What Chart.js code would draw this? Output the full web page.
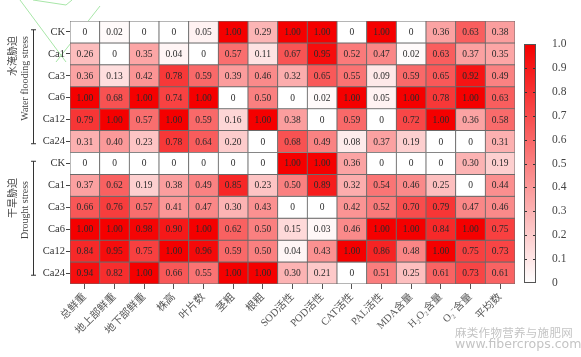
<!DOCTYPE html>
<html>
<head>
<meta charset="utf-8">
<script src="https://cdn.jsdelivr.net/npm/chart.js@4.4.1/dist/chart.umd.min.js"></script>
<style>
html,body{margin:0;padding:0;background:#fff;}
#wrap{position:relative;width:581px;height:357px;overflow:hidden;}
#main{position:absolute;left:0;top:0;}
#cbar{position:absolute;left:515px;top:0;}
#wm{position:absolute;left:455px;top:326px;color:#c4c4c4;font-family:"Noto Sans CJK SC","DejaVu Sans",sans-serif;line-height:12px;}
#deco{position:absolute;left:0;top:0;}
</style>
</head>
<body>
<div id="wrap">
<svg id="deco" width="581" height="357"><polyline points="20,0 66,62" stroke="#a8e6a8" stroke-width="1" fill="none"/><polyline points="33,0 66,5 72,0" stroke="#a8e6a8" stroke-width="1" fill="none"/><polyline points="100,6 56,62" stroke="#a8e6a8" stroke-width="1" fill="none"/></svg>
<canvas id="main" width="581" height="357"></canvas>
<canvas id="cbar" width="66" height="357"></canvas>
<div id="wm"><div style="font-size:11.5px;letter-spacing:0.3px">麻类作物营养与施肥网</div><div style="font-size:12.5px;font-family:'DejaVu Sans',sans-serif">www.fibercrops.com</div></div>
</div>
<script>
// ---- data ----
const columns = ['总鲜重','地上部鲜重','地下部鲜重','株高','叶片数','茎粗','根粗','SOD活性','POD活性','CAT活性','PAL活性','MDA含量','H₂O₂含量','O₂⁻含量','平均数'];
const rowLabels = ['CK','Ca1','Ca3','Ca6','Ca12','Ca24','CK','Ca1','Ca3','Ca6','Ca12','Ca24'];
const groupLabelsCN = ['水淹胁迫','干旱胁迫'];
const groupLabelsEN = ['Water flooding stress','Drought stress'];
const colorbarTicks = [0,0.1,0.2,0.3,0.4,0.5,0.6,0.7,0.8,0.9,1.0];

const floodCK   = [0,0.02,0,0,0.05,1.00,0.29,1.00,1.00,0,1.00,0,0.36,0.63,0.38];
const floodCa1  = [0.26,0,0.35,0.04,0,0.57,0.11,0.67,0.95,0.52,0.47,0.02,0.63,0.37,0.35];
const floodCa3  = [0.36,0.13,0.42,0.78,0.59,0.39,0.46,0.32,0.65,0.55,0.09,0.59,0.65,0.92,0.49];
const floodCa6  = [1.00,0.68,1.00,0.74,1.00,0,0.50,0,0.02,1.00,0.05,1.00,0.78,1.00,0.63];
const floodCa12 = [0.79,1.00,0.57,1.00,0.59,0.16,1.00,0.38,0,0.59,0,0.72,1.00,0.36,0.58];
const floodCa24 = [0.31,0.40,0.23,0.78,0.64,0.20,0,0.68,0.49,0.08,0.37,0.19,0,0,0.31];
const droughtCK   = [0,0,0,0,0,0,0,1.00,1.00,0.36,0,0,0,0.30,0.19];
const droughtCa1  = [0.37,0.62,0.19,0.38,0.49,0.85,0.23,0.50,0.89,0.32,0.54,0.46,0.25,0,0.44];
const droughtCa3  = [0.66,0.76,0.57,0.41,0.47,0.30,0.43,0,0,0.42,0.52,0.70,0.79,0.47,0.46];
const droughtCa6  = [1.00,1.00,0.98,0.90,1.00,0.62,0.50,0.15,0.03,0.46,1.00,1.00,0.84,1.00,0.75];
const droughtCa12 = [0.84,0.95,0.75,1.00,0.96,0.59,0.50,0.04,0.43,1.00,0.86,0.48,1.00,0.75,0.73];
const droughtCa24 = [0.94,0.82,1.00,0.66,0.55,1.00,1.00,0.30,0.21,0,0.51,0.25,0.61,0.73,0.61];

const matrix = [floodCK,floodCa1,floodCa3,floodCa6,floodCa12,floodCa24,
                droughtCK,droughtCa1,droughtCa3,droughtCa6,droughtCa12,droughtCa24];

// ---- styling ----
const SERIF = '"Liberation Serif","Times New Roman","Noto Sans CJK SC",serif';
const XFONT = '"Liberation Serif","Noto Sans CJK SC",serif';
function colorFor(v){
  const r = Math.round(255 - 10*v);
  const g = Math.round(255*(1-v));
  return `rgb(${r},${g},${g})`;
}
function fmt(v){ return v === 0 ? '0' : v.toFixed(2); }

const datasets = matrix.map((row, r) => ({
  label: rowLabels[r],
  data: row.map(() => [r, r+1]),
  values: row,
  backgroundColor: row.map(colorFor),
  borderColor: '#6a6a6a',
  borderWidth: 0.8,
  borderSkipped: false,
  barPercentage: 1,
  categoryPercentage: 1
}));

const cellText = {
  id: 'cellText',
  afterDatasetsDraw(chart){
    const ctx = chart.ctx;
    ctx.save();
    ctx.font = '9.5px ' + SERIF;
    ctx.fillStyle = '#2a2a2a';
    ctx.textAlign = 'center';
    ctx.textBaseline = 'middle';
    chart.data.datasets.forEach((ds, i) => {
      chart.getDatasetMeta(i).data.forEach((el, j) => {
        ctx.fillText(fmt(ds.values[j]), el.x, (el.y + el.base)/2 + 0.5);
      });
    });
    ctx.restore();
  }
};

const groups = {
  id: 'groups',
  afterDraw(chart){
    const ctx = chart.ctx, ys = chart.scales.y;
    ctx.save();
    ctx.strokeStyle = '#333';
    ctx.lineWidth = 1;
    const spans = [[0,5],[6,11]];
    spans.forEach(([a,b]) => {
      const y1 = ys.getPixelForValue(a+0.4), y2 = ys.getPixelForValue(b+0.6);
      ctx.beginPath();
      ctx.moveTo(33.5,y1); ctx.lineTo(33.5,y2);
      ctx.moveTo(31,y1); ctx.lineTo(36,y1);
      ctx.moveTo(31,y2); ctx.lineTo(36,y2);
      ctx.stroke();
    });
    ctx.fillStyle = '#444';
    ctx.textBaseline = 'middle';
    ctx.textAlign = 'right';
    const tops = [[36,36],[178,181]];
    groupLabelsCN.forEach((t,i) => {
      ctx.save(); ctx.translate(12, tops[i][0]); ctx.rotate(-Math.PI/2);
      ctx.font = '10px "Noto Sans CJK SC",sans-serif';
      ctx.fillText(t, 0, 0); ctx.restore();
    });
    groupLabelsEN.forEach((t,i) => {
      ctx.save(); ctx.translate(25.5, tops[i][1]); ctx.rotate(-Math.PI/2);
      ctx.font = '10px ' + SERIF;
      ctx.fillText(t, 0, 0); ctx.restore();
    });
    ctx.restore();
  }
};

new Chart(document.getElementById('main'), {
  type: 'bar',
  data: { labels: columns, datasets },
  options: {
    responsive: false,
    animation: false,
    layout: { padding: { left: 38, top: 21, right: 66, bottom: 0 } },
    plugins: { legend: { display: false }, tooltip: { enabled: false } },
    scales: {
      x: {
        stacked: true,
        offset: true,
        grid: { offset: false, drawOnChartArea: false, drawTicks: true, tickLength: 5, color: '#555' },
        border: { display: false },
        ticks: { minRotation: 45, maxRotation: 45, autoSkip: false, padding: 2, color: '#555',
                 font: { family: XFONT, size: 10.5 } },
        afterFit(s){ s.height = 73; }
      },
      y: {
        stacked: false,
        min: 0, max: 12, reverse: true,
        afterBuildTicks(s){ s.ticks = rowLabels.map((_, i) => ({ value: i + 0.5 })); },
        grid: { drawOnChartArea: false, drawTicks: true, tickLength: 4, color: '#444' },
        border: { display: false },
        ticks: { autoSkip: false, padding: 1, color: '#333', font: { family: SERIF, size: 10.5 },
                 callback: (v) => rowLabels[Math.floor(v)] },
        afterFit(s){ s.width = 32; }
      }
    }
  },
  plugins: [cellText, groups]
});

// ---- colorbar ----
const cbTicks = {
  id: 'cbTicks',
  afterDatasetsDraw(chart){
    const ctx = chart.ctx, ys = chart.scales.y, a = chart.chartArea;
    ctx.save();
    ctx.strokeStyle = '#333'; ctx.lineWidth = 1;
    colorbarTicks.forEach(v => {
      if (v === 0 || v === 1) return;
      const y = Math.round(ys.getPixelForValue(v)) + 0.5;
      ctx.beginPath();
      ctx.moveTo(a.left, y); ctx.lineTo(a.left+3, y);
      ctx.moveTo(a.right-3, y); ctx.lineTo(a.right, y);
      ctx.stroke();
    });
    ctx.strokeStyle = '#555';
    ctx.strokeRect(a.left+0.5, a.top+0.5, a.right-a.left-1, a.bottom-a.top-1);
    ctx.restore();
  }
};
new Chart(document.getElementById('cbar'), {
  type: 'bar',
  data: { labels: [''], datasets: [{
    data: [[0,1]],
    barPercentage: 1, categoryPercentage: 1, borderWidth: 0,
    backgroundColor(c){
      const a = c.chart.chartArea;
      if (!a) return '#f00';
      const g = c.chart.ctx.createLinearGradient(0, a.bottom, 0, a.top);
      g.addColorStop(0, colorFor(0));
      g.addColorStop(0.5, colorFor(0.5));
      g.addColorStop(1, colorFor(1));
      return g;
    }
  }]},
  options: {
    responsive: false, animation: false,
    layout: { padding: { left: 9, top: 44, bottom: 74, right: 0 } },
    plugins: { legend: { display: false }, tooltip: { enabled: false } },
    scales: {
      x: { display: false },
      y: {
        position: 'right', min: 0, max: 1,
        afterBuildTicks(s){ s.ticks = colorbarTicks.map(v => ({ value: v })); },
        grid: { display: false },
        border: { display: false },
        ticks: { padding: 8, color: '#444', font: { family: SERIF, size: 11.5 },
                 callback: (v) => v === 0 ? '0' : v.toFixed(1) },
        afterFit(s){ s.width = 45; }
      }
    }
  },
  plugins: [cbTicks]
});
</script>
</body>
</html>
